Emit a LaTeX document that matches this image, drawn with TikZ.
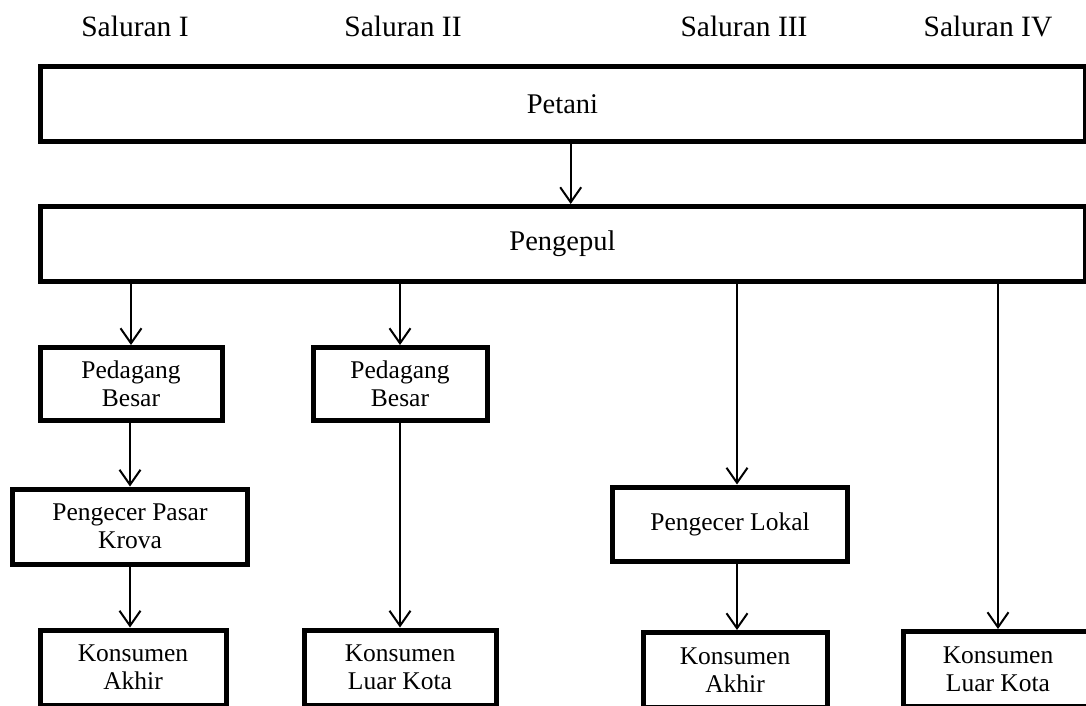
\documentclass[tikz,border=0pt]{standalone}
\usepackage{fontspec}
\setmainfont{Liberation Serif}
\usetikzlibrary{arrows.meta}
\tikzset{
  box/.style={draw, line width=5pt, inner sep=0pt, align=center,
    font=\fontsize{25.5}{28}\selectfont},
  bigbox/.style={box, minimum width=1045pt, minimum height=75pt,
    font=\fontsize{28.5}{30}\selectfont},
  head/.style={inner sep=0pt, font=\fontsize{29.5}{32}\selectfont},
  arr/.style={line width=2pt, -{Straight Barb[length=15pt,width=21pt]}}
}
\begin{document}
\begin{tikzpicture}[x=1pt,y=-1pt]
\useasboundingbox (0,0) rectangle (1086,705);
\clip (0,0) rectangle (1086,705);
% headings
\node[head] (s1) at (135,26) {Saluran I};
\node[head] (s2) at (403,26) {Saluran II};
\node[head] (s3) at (744,26) {Saluran III};
\node[head] (s4) at (988,26) {Saluran IV};
% main boxes
\node[bigbox] (petani) at (562.5,104) {Petani};
\node[bigbox] (pengepul) at (562.5,244) {Pengepul};
% level 2
\node[box, minimum width=182pt, minimum height=73pt] (pb1) at (131,384) {Pedagang\\Besar};
\node[box, minimum width=174pt, minimum height=73pt] (pb2) at (400,384) {Pedagang\\Besar};
% level 3
\node[box, minimum width=235pt, minimum height=75pt] (ppk) at (130,526.5) {Pengecer Pasar\\Krova};
\node[box, minimum width=235pt, minimum height=74pt] (pl) at (730,524) {Pengecer Lokal};
% level 4
\node[box, minimum width=186pt, minimum height=75pt] (ka1) at (133,667.5) {Konsumen\\Akhir};
\node[box, minimum width=192pt, minimum height=75pt] (klk2) at (400,667.5) {Konsumen\\Luar Kota};
\node[box, minimum width=184pt, minimum height=75pt] (ka3) at (735,670) {Konsumen\\Akhir};
\node[box, minimum width=190pt, minimum height=75pt] (klk4) at (998,669) {Konsumen\\Luar Kota};
% connectors
\coordinate (c1) at (570.7,141.5);
\coordinate (c3) at (737,524);
\draw[arr] (c1) -- (c1 |- pengepul.north);
\draw[arr] (pb1.north |- pengepul.south) -- (pb1.north);
\draw[arr] (pb2.north |- pengepul.south) -- (pb2.north);
\draw[arr] (c3 |- pengepul.south) -- (c3 |- pl.north);
\draw[arr] (klk4.north |- pengepul.south) -- (klk4.north);
\draw[arr] (ppk.north |- pb1.south) -- (ppk.north);
\draw[arr] (ppk.south) -- (ppk.south |- ka1.north);
\draw[arr] (pb2.south) -- (klk2.north);
\draw[arr] (c3 |- pl.south) -- (c3 |- ka3.north);
\end{tikzpicture}
\end{document}
